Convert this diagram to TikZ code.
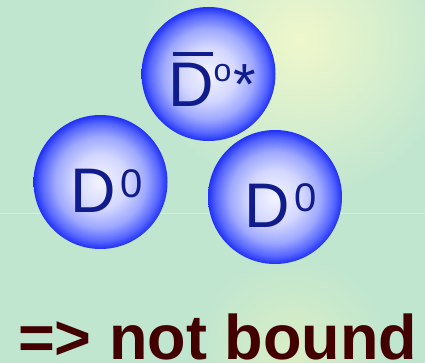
\documentclass[tikz,border=0pt]{standalone}
\usepackage{fontspec}
\setmainfont{Liberation Sans}
\usetikzlibrary{positioning, fadings}
\definecolor{cbg}{HTML}{C0E6D0}
\definecolor{cglow}{HTML}{F0F8CC}
\definecolor{cglowlow}{HTML}{DAEFC6}
\definecolor{cball0}{HTML}{F4F4FF}
\definecolor{cball1}{HTML}{D4D8FF}
\definecolor{cball2}{HTML}{9EA8FF}
\definecolor{cball3}{HTML}{5767FF}
\definecolor{cball4}{HTML}{2030F4}
\definecolor{cdark}{HTML}{101C8C}
\definecolor{cmaroon}{HTML}{420000}
\pgfdeclareradialshading{mesonball}{\pgfpoint{0bp}{0bp}}{color(0bp)=(cball0); color(10bp)=(cball1); color(17bp)=(cball2); color(22bp)=(cball3); color(25bp)=(cball4); color(50bp)=(cball4)}
\tikzfading[name=glowfade, inner color=transparent!0, outer color=transparent!100]
\newcommand{\bigD}{\fontsize{63}{63}\selectfont D}
\newcommand{\supzero}{\raisebox{16pt}{\fontsize{40}{40}\selectfont 0}}
\tikzset{
  meson/.style={circle, minimum size=134pt, inner sep=0pt, shading=mesonball},
  mlabel/.style={anchor=base west, inner sep=0pt, text=cdark},
  glow/.style={fill=#1, path fading=glowfade},
  verdict/.style={anchor=base west, inner sep=0pt, text=cmaroon, font=\bfseries\fontsize{63}{63}\selectfont},
}
\begin{document}
\begin{tikzpicture}[x=1pt, y=-1pt]
  \useasboundingbox (0,0) rectangle (425,363);
  \begin{scope}
    \clip (0,0) rectangle (425,363);
    % background and glows
    \fill[cbg] (0,0) rectangle (425,363);
    \fill[glow=cglow] (300,40) circle (160);
    \fill[glow=cglowlow] (292,352) circle (100);
    \draw[white, opacity=0.35, line width=1pt] (0,214) -- (425,214);
  \end{scope}
  % the three mesons
  \node[meson] (dbarstar) at (208.5,74) {};
  \node[meson] (dzeroa) at (100.5,182) {};
  \node[meson] (dzerob) at (275,197) {};
  \node[mlabel] (lbarstar) at (168,107) {\rlap{\hspace{5pt}\rule[51pt]{40pt}{4pt}}\bigD\raisebox{25pt}{\fontsize{32}{32}\selectfont o}\hspace{2pt}\raisebox{2pt}{\fontsize{58}{58}\selectfont *}};
  \node[mlabel] (lzeroa) at (70,213) {\bigD\hspace{5pt}\supzero};
  \node[mlabel] (lzerob) at (244,227) {\bigD\hspace{5pt}\supzero};
  % conclusion
  \node[verdict] (notbound) at (18,359) {=> not bound};
\end{tikzpicture}
\end{document}
